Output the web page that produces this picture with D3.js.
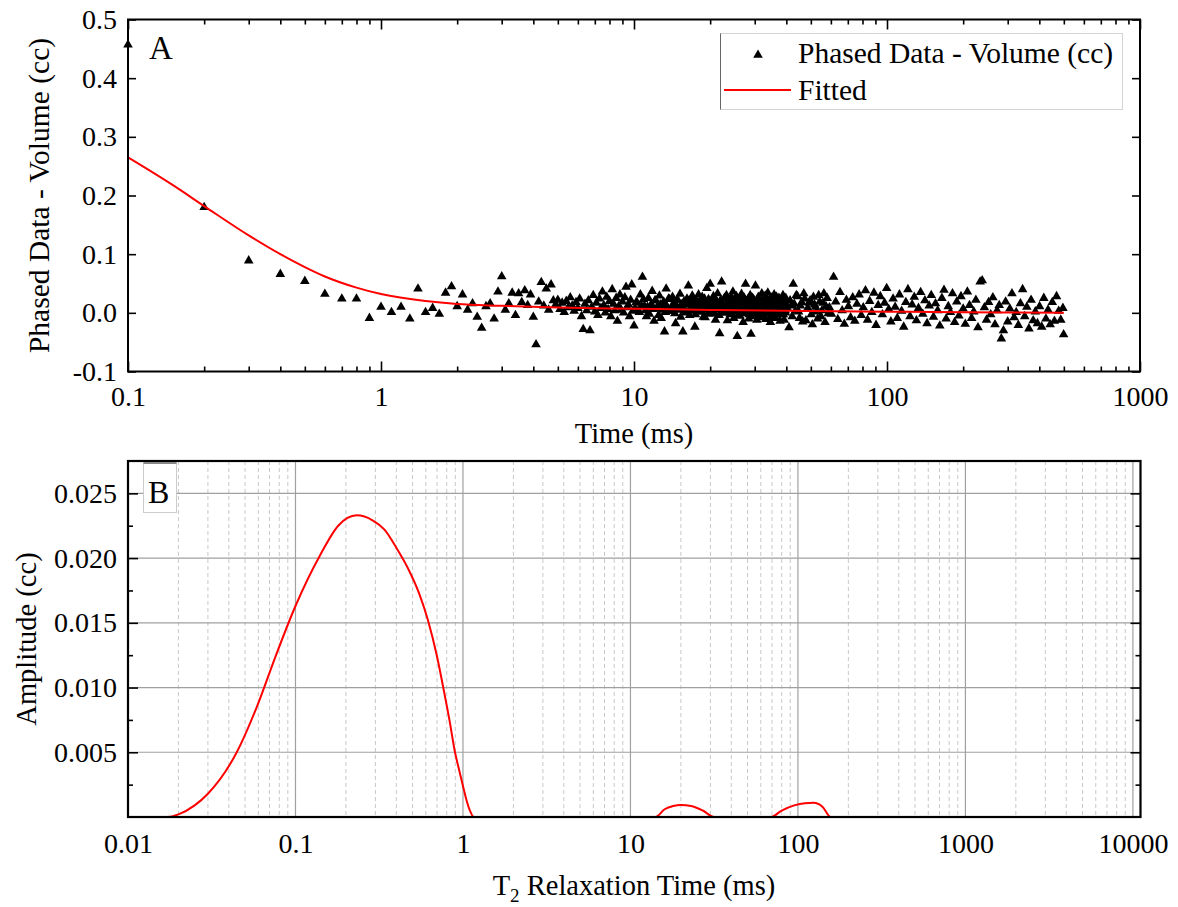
<!DOCTYPE html>
<html>
<head>
<meta charset="utf-8">
<script src="https://cdn.jsdelivr.net/npm/d3@7"></script>
<style>
  body { margin: 0; background: #fff; }
  svg text { font-family: "Liberation Serif", "Times New Roman", serif !important; fill: #000; }
</style>
</head>
<body>
<div id="chart"></div>
<script>
const W = 1178, H = 907

// ---- panel A: phased echo data (ms, cc) ----
const phasedTime = [
  0.1,0.2,0.3,0.4,0.5,0.6,0.7,0.8,0.9,1.0,
  1.1,1.2,1.3,1.4,1.5,1.6,1.7,1.8,1.9,2.0,
  2.1,2.2,2.3,2.4,2.5,2.6,2.7,2.8,2.9,3.0,
  3.1,3.2,3.3,3.4,3.5,3.6,3.7,3.8,3.9,4.0,
  4.1,4.2,4.3,4.4,4.5,4.6,4.7,4.8,4.9,5.0,
  5.1,5.2,5.3,5.4,5.5,5.6,5.7,5.8,5.9,6.0,
  6.1,6.2,6.3,6.4,6.5,6.6,6.7,6.8,6.9,7.0,
  7.1,7.2,7.3,7.4,7.5,7.6,7.7,7.8,7.9,8.0,
  8.1,8.2,8.3,8.4,8.5,8.6,8.7,8.8,8.9,9.0,
  9.1,9.2,9.3,9.4,9.5,9.6,9.7,9.8,9.9,10.0,
  10.2,10.4,10.6,10.8,11.0,11.2,11.4,11.6,11.8,12.0,
  12.2,12.4,12.6,12.8,13.0,13.2,13.4,13.6,13.8,14.0,
  14.2,14.4,14.6,14.8,15.0,15.2,15.4,15.6,15.8,16.0,
  16.2,16.4,16.6,16.8,17.0,17.2,17.4,17.6,17.8,18.0,
  18.2,18.4,18.6,18.8,19.0,19.2,19.4,19.6,19.8,20.0,
  20.2,20.4,20.6,20.8,21.0,21.2,21.4,21.6,21.8,22.0,
  22.2,22.4,22.6,22.8,23.0,23.2,23.4,23.6,23.8,24.0,
  24.2,24.4,24.6,24.8,25.0,25.2,25.4,25.6,25.8,26.0,
  26.2,26.4,26.6,26.8,27.0,27.2,27.4,27.6,27.8,28.0,
  28.2,28.4,28.6,28.8,29.0,29.2,29.4,29.6,29.8,30.0,
  30.2,30.4,30.6,30.8,31.0,31.2,31.4,31.6,31.8,32.0,
  32.2,32.4,32.6,32.8,33.0,33.2,33.4,33.6,33.8,34.0,
  34.2,34.4,34.6,34.8,35.0,35.2,35.4,35.6,35.8,36.0,
  36.2,36.4,36.6,36.8,37.0,37.2,37.4,37.6,37.8,38.0,
  38.2,38.4,38.6,38.8,39.0,39.2,39.4,39.6,39.8,40.0,
  41.0,41.8,42.6,43.4,44.3,45.1,46.0,46.9,47.8,48.8,
  49.7,50.7,51.7,52.7,53.7,54.8,55.8,56.9,58.0,59.2,
  60.3,61.5,62.7,63.9,65.2,66.5,67.8,69.1,70.4,71.8,
  73.2,74.6,76.1,77.6,79.1,80.6,82.2,83.8,85.4,87.1,
  88.8,90.5,92.3,94.1,95.9,97.8,99.7,101.6,103.6,105.7,
  107.7,109.8,112.0,114.2,116.4,118.7,121.0,123.3,125.7,128.2,
  130.7,133.2,135.8,138.5,141.2,144.0,146.8,149.6,152.6,155.5,
  158.6,161.7,164.8,168.0,171.3,174.7,178.1,181.5,185.1,188.7,
  192.4,196.1,200.0,203.9,207.8,211.9,216.0,220.2,224.5,228.9,
  233.4,237.9,242.6,247.3,252.1,257.0,262.1,267.2,272.4,277.7,
  283.1,288.6,294.3,300.0,305.9,311.8,317.9,324.1,330.4,336.9,
  343.5,350.2,357.0,364.0,371.1,378.3,385.7,393.2,400.9,408.7,
  416.7,424.8,433.1,441.5,450.1,458.9,467.9,477.0,486.3,495.8,
  499.0
]
const phasedVolume = [
  .457,.180,.089,.066,.054,.032,.024,.024,-.009,.010,
  .001,.010,-.010,.041,.001,.008,-.002,.034,.045,.011,
  .031,.005,.016,-.007,-.026,.011,.016,-.010,.036,.062,
  .005,.016,.034,-.004,.033,.018,.038,.013,.031,-.007,
  -.054,.019,.052,.012,.041,.005,.048,.021,.014,.022,
  .006,.017,.001,.020,.009,.026,.012,.003,.018,.008,
  .024,-.006,-.028,.015,.004,.021,-.030,.010,.030,.002,
  .017,-.004,.024,.008,.036,.013,.000,.027,.006,.020,
  -.006,.040,.015,.004,.025,-.014,.011,.031,.005,.019,
  .000,.026,.044,.009,.014,-.006,.022,.048,.003,-.022,
  .018,.004,.031,.061,.012,-.006,.025,.009,.037,-.014,
  .021,.008,.029,-.009,.016,-.032,.041,.007,.023,.003,
  .027,.011,-.018,.022,.005,.032,.014,-.032,.019,.001,
  .024,.046,-.004,.017,.029,.006,-.024,.022,.009,.031,
  .002,.015,.027,-.007,.024,.010,.042,.012,-.002,.049,
  .020,.004,.028,.010,-.012,.018,.033,.006,-.035,.022,
  .053,.011,.000,.025,.007,.030,-.013,.016,.021,-.003,
  .027,.008,.036,-.009,.019,.004,.028,-.040,.013,.024,
  -.005,.019,.032,.006,-.016,.026,.012,.049,.001,.017,
  .023,-.010,.008,.030,-.036,.014,.025,.003,.019,-.006,
  .046,.010,-.012,.019,.027,.005,-.002,.022,.015,.033,
  -.008,.011,.024,.004,.029,-.011,.018,.008,.034,.000,
  .020,.013,-.016,.026,.006,.016,-.004,.022,.031,.003,
  .017,-.009,.027,.009,.020,.002,.025,.012,-.014,.015,
  .007,.021,-.003,.030,.014,-.012,.019,.004,.025,.010,
  -.025,.012,.049,.003,.028,-.009,.018,.033,-.013,.007,
  .021,-.020,.014,.002,.030,-.006,.017,-.016,.025,.009,
  -.002,.061,.019,-.011,.035,.004,-.019,.022,.011,-.008,
  .026,-.014,.015,.031,-.004,.009,.038,-.012,.020,.001,
  .034,-.021,.013,.028,-.003,.017,.042,.006,-.015,.024,
  .010,-.009,.031,.003,-.024,.018,.040,-.006,.014,.027,
  -.013,.008,.035,-.002,.021,-.018,.012,.030,-.007,.016,
  .004,-.022,.025,.039,-.010,.011,.001,.033,-.016,.019,
  -.005,.028,.007,-.019,.036,.013,-.009,.002,.022,-.025,
  .053,.055,.009,-.012,.018,-.003,.026,-.020,.004,.013,
  -.044,-.030,.019,-.015,.007,.033,-.008,.001,-.021,.016,
  .040,-.006,.010,-.027,.022,-.013,.002,-.018,.011,-.024,
  .025,-.010,.005,-.020,.018,-.014,.028,.003,-.012,.008,
  -.037
]
// interleaved echoes in the dense 10-60 ms stretch
const denseTime = [
  10.1,10.3,10.5,10.7,10.9,11.1,11.3,11.5,11.7,11.9,
  12.1,12.3,12.5,12.7,12.9,13.1,13.3,13.5,13.7,13.9,
  14.1,14.3,14.5,14.7,14.9,15.1,15.3,15.5,15.7,15.9,
  16.1,16.3,16.5,16.7,16.9,17.1,17.3,17.5,17.7,17.9,
  18.1,18.3,18.5,18.7,18.9,19.1,19.3,19.5,19.7,19.9,
  20.1,20.3,20.5,20.7,20.9,21.1,21.3,21.5,21.7,21.9,
  22.1,22.3,22.5,22.7,22.9,23.1,23.3,23.5,23.7,23.9,
  24.1,24.3,24.5,24.7,24.9,25.1,25.3,25.5,25.7,25.9,
  26.1,26.3,26.5,26.7,26.9,27.1,27.3,27.5,27.7,27.9,
  28.1,28.3,28.5,28.7,28.9,29.1,29.3,29.5,29.7,29.9,
  30.1,30.3,30.5,30.7,30.9,31.1,31.3,31.5,31.7,31.9,
  32.1,32.3,32.5,32.7,32.9,33.1,33.3,33.5,33.7,33.9,
  34.1,34.3,34.5,34.7,34.9,35.1,35.3,35.5,35.7,35.9,
  36.1,36.3,36.5,36.7,36.9,37.1,37.3,37.5,37.7,37.9,
  38.1,38.3,38.5,38.7,38.9,39.1,39.3,39.5,39.7,39.9,
  40.4,41.4,42.2,43.0,43.8,44.7,45.5,46.4,47.3,48.3,
  49.2,50.2,51.2,52.2,53.2,54.2,55.3,56.3,57.4,58.6
]
const denseVolume = [
  .007,.017,.001,.012,.023,.004,.010,-.002,.015,.006,
  .021,.009,-.004,.014,.005,.019,.001,.011,.024,.003,
  .008,.016,-.001,.013,.022,.006,-.007,.011,.018,.004,
  .014,.000,.020,.008,.003,.025,.010,-.003,.016,.007,
  .012,.021,.002,.009,.017,-.008,.013,.005,.023,.001,
  .010,.019,.004,.014,-.001,.022,.007,.015,-.004,.011,
  .018,.003,.012,.024,.006,.000,.016,.009,.021,.005,
  .013,-.002,.017,.008,.023,.002,.011,.019,-.005,.014,
  .006,.020,.001,.015,.010,.024,.004,.012,-.001,.017,
  .008,.021,-.003,.013,.005,.018,.002,.011,.023,.007,
  .014,.000,.019,.009,.004,.022,.012,-.004,.016,.006,
  .011,.020,.003,.015,-.002,.013,.008,.021,.001,.010,
  .017,.005,.012,-.007,.019,.007,.014,.002,.022,.009,
  .004,.016,.010,-.001,.018,.006,.013,.021,.001,.011,
  .015,.003,.008,.019,-.003,.012,.006,.017,.000,.010,
  .008,.021,-.006,.015,.030,.002,.012,-.015,.024,.006,
  .017,-.003,.027,.010,-.010,.019,.004,.033,.011,-.001
]
const fitTime = [0.1,0.15,0.2,0.3,0.4,0.5,0.6,0.8,1,1.5,2,3,5,10,20,50,100,200,500]
const fitVolume = [0.265,0.218,0.182,0.132,0.100,0.078,0.062,0.043,0.032,0.020,0.015,0.012,0.009,0.007,0.005,0.003,0.002,0.001,0.000]

// ---- panel B: T2 distribution (ms, cc) ----
const t2Time = [0.01,0.0173,0.02,0.025,0.03,0.0446,0.06,0.075,0.1,0.14,0.18,0.232,0.29,0.34,0.4,0.47,0.55,0.618,0.7,0.76,0.83,0.896,0.95,1.0,1.05,1.1,1.16,
  2,5,10,14.1,16,18,20,23,27,31.6,50,69,80,95,110,124,140,157,300,1000,10000]
const t2Amplitude = [0,0,0.0002,0.0009,0.0018,0.005,0.0088,0.0122,0.0163,0.0202,0.0225,0.0233,0.0229,0.0222,0.0208,0.0192,0.0172,0.0152,0.0124,0.0101,0.0075,0.005,0.0036,0.0024,0.0013,0.0005,0,
  0,0,0,0,0.0006,0.00085,0.00093,0.00085,0.0005,0,0,0,0.0005,0.0009,0.00107,0.0011,0.0008,0,0,0,0]

const tickTimeA = [0.1, 1, 10, 100, 1000]
const tickVolA = [-0.1, 0, 0.1, 0.2, 0.3, 0.4, 0.5]
const tickTimeB = [0.01, 0.1, 1, 10, 100, 1000, 10000]
const tickAmpB = [0.005, 0.01, 0.015, 0.02, 0.025]
const minorAmpB = [0.0025, 0.0075, 0.0125, 0.0175, 0.0225]

function minors(lo, hi) {
  const out = []
  for (let e = lo; e < hi; e++) for (let k = 2; k < 10; k++) out.push(k * Math.pow(10, e))
  return out
}

const svg = d3.select('#chart').append('svg')
  .attr('width', W).attr('height', H)

function styleAxis(g) {
  g.select('.domain').remove()
  g.selectAll('.tick line').attr('stroke', '#000').attr('stroke-width', 1.6)
  g.selectAll('.tick text').attr('font-size', 28)
}

// ================= panel A =================
const xA = d3.scaleLog().domain([0.1, 1000]).range([128, 1140])
const yA = d3.scaleLinear().domain([-0.1, 0.5]).range([371.5, 19.5])

svg.append('clipPath').attr('id', 'clipA')
  .append('rect').attr('x', 128).attr('y', 19.5).attr('width', 1012).attr('height', 352)

const lineA = d3.line().x((d, i) => xA(fitTime[i])).y(d => yA(d)).curve(d3.curveMonotoneX)

const allTime = phasedTime.concat(denseTime)
const allVolume = phasedVolume.concat(denseVolume)

svg.append('g')
  .selectAll('path')
  .data(allVolume)
  .enter()
  .append('path')
  .attr('d', d3.symbol(d3.symbolTriangle, 40))
  .attr('transform', (d, i) => `translate(${xA(allTime[i])},${yA(d)})`)
  .attr('fill', '#000')

svg.append('path')
  .datum(fitVolume)
  .attr('clip-path', 'url(#clipA)')
  .attr('d', lineA)
  .attr('fill', 'none')
  .attr('stroke', '#ff0000')
  .attr('stroke-width', 2)

svg.append('g').attr('transform', 'translate(0,371.5)')
  .call(d3.axisBottom(xA).tickValues(tickTimeA).tickSize(-10).tickPadding(15).tickFormat(d => String(d)))
  .call(styleAxis)
svg.append('g').attr('transform', 'translate(0,371.5)')
  .call(d3.axisBottom(xA).tickValues(minors(-1, 3)).tickSize(-5).tickFormat(''))
  .call(styleAxis)
svg.append('g').attr('transform', 'translate(0,19.5)')
  .call(d3.axisTop(xA).tickValues(tickTimeA).tickSize(-10).tickFormat(''))
  .call(styleAxis)
svg.append('g').attr('transform', 'translate(0,19.5)')
  .call(d3.axisTop(xA).tickValues(minors(-1, 3)).tickSize(-5).tickFormat(''))
  .call(styleAxis)
svg.append('g').attr('transform', 'translate(128,0)')
  .call(d3.axisLeft(yA).tickValues(tickVolA).tickSize(-8).tickPadding(11).tickFormat(d => d.toFixed(1)))
  .call(styleAxis)
svg.append('g').attr('transform', 'translate(1140,0)')
  .call(d3.axisRight(yA).tickValues(tickVolA).tickSize(-8).tickFormat(''))
  .call(styleAxis)

svg.append('rect')
  .attr('x', 128).attr('y', 19.5).attr('width', 1012).attr('height', 352)
  .attr('fill', 'none').attr('stroke', '#000').attr('stroke-width', 2)

svg.append('text').attr('x', 149).attr('y', 59).attr('font-size', 33).text('A')

// legend
const legend = svg.append('g')
legend.append('rect')
  .attr('x', 720.5).attr('y', 33.5).attr('width', 402).attr('height', 76)
  .attr('fill', '#fff').attr('stroke', '#d4d4d4').attr('stroke-width', 1)
legend.append('line')
  .attr('x1', 720.5).attr('x2', 720.5).attr('y1', 33.5).attr('y2', 109.5)
  .attr('stroke', '#666').attr('stroke-width', 1)
legend.append('path')
  .attr('d', d3.symbol(d3.symbolTriangle, 40))
  .attr('transform', 'translate(758,55)')
  .attr('fill', '#000')
legend.append('text').attr('x', 798).attr('y', 63).attr('font-size', 29.5).text('Phased Data - Volume (cc)')
legend.append('line')
  .attr('x1', 724).attr('x2', 791).attr('y1', 90).attr('y2', 90)
  .attr('stroke', '#ff0000').attr('stroke-width', 2)
legend.append('text').attr('x', 798).attr('y', 100).attr('font-size', 29.5).text('Fitted')

svg.append('text')
  .attr('transform', 'translate(49,195.5) rotate(-90)')
  .attr('text-anchor', 'middle').attr('font-size', 29.5)
  .text('Phased Data - Volume (cc)')
svg.append('text')
  .attr('x', 634).attr('y', 443)
  .attr('text-anchor', 'middle').attr('font-size', 28.5)
  .text('Time (ms)')

// ================= panel B =================
const xB = d3.scaleLog().domain([0.01, 11100]).range([128, 1140.5])
const yB = d3.scaleLinear().domain([0, 0.0275]).range([817, 461])

const grid = svg.append('g')
grid.selectAll('line.minor')
  .data(minors(-2, 4))
  .enter().append('line')
  .attr('x1', d => xB(d)).attr('x2', d => xB(d))
  .attr('y1', 461).attr('y2', 817)
  .attr('stroke', '#c8c8c8').attr('stroke-width', 1).attr('stroke-dasharray', '4,3')
grid.selectAll('line.major')
  .data(tickTimeB.slice(1))
  .enter().append('line')
  .attr('x1', d => xB(d)).attr('x2', d => xB(d))
  .attr('y1', 461).attr('y2', 817)
  .attr('stroke', '#a0a0a0').attr('stroke-width', 1.2)
grid.selectAll('line.hmajor')
  .data(tickAmpB)
  .enter().append('line')
  .attr('x1', 128).attr('x2', 1140.5)
  .attr('y1', d => yB(d)).attr('y2', d => yB(d))
  .attr('stroke', '#a0a0a0').attr('stroke-width', 1.2)

const lineB = d3.line().x((d, i) => xB(t2Time[i])).y(d => yB(d)).curve(d3.curveMonotoneX)
svg.append('path')
  .datum(t2Amplitude)
  .attr('d', lineB)
  .attr('fill', 'none')
  .attr('stroke', '#ff0000')
  .attr('stroke-width', 2)

svg.append('g').attr('transform', 'translate(0,817)')
  .call(d3.axisBottom(xB).tickValues(tickTimeB).tickSize(0).tickPadding(16).tickFormat(d => String(d)))
  .call(styleAxis)
svg.append('g').attr('transform', 'translate(128,0)')
  .call(d3.axisLeft(yB).tickValues(tickAmpB).tickSize(-10).tickPadding(11).tickFormat(d3.format('.3f')))
  .call(styleAxis)
svg.append('g').attr('transform', 'translate(128,0)')
  .call(d3.axisLeft(yB).tickValues(minorAmpB).tickSize(-5).tickFormat(''))
  .call(styleAxis)
svg.append('g').attr('transform', 'translate(1140.5,0)')
  .call(d3.axisRight(yB).tickValues(tickAmpB).tickSize(-10).tickFormat(''))
  .call(styleAxis)
svg.append('g').attr('transform', 'translate(1140.5,0)')
  .call(d3.axisRight(yB).tickValues(minorAmpB).tickSize(-5).tickFormat(''))
  .call(styleAxis)

svg.append('rect')
  .attr('x', 128).attr('y', 461).attr('width', 1012.5).attr('height', 356)
  .attr('fill', 'none').attr('stroke', '#000').attr('stroke-width', 2.2)

svg.append('rect')
  .attr('x', 143.5).attr('y', 462.5).attr('width', 33).attr('height', 50)
  .attr('fill', '#fff').attr('stroke', '#cccccc').attr('stroke-width', 1)
svg.append('line')
  .attr('x1', 143.5).attr('x2', 176.5).attr('y1', 463).attr('y2', 463)
  .attr('stroke', '#888').attr('stroke-width', 2)
svg.append('text').attr('x', 148).attr('y', 503).attr('font-size', 32).text('B')

svg.append('text')
  .attr('transform', 'translate(36,639) rotate(-90)')
  .attr('text-anchor', 'middle').attr('font-size', 28.5)
  .text('Amplitude (cc)')

const t2Title = svg.append('text')
  .attr('x', 634).attr('y', 895)
  .attr('text-anchor', 'middle').attr('font-size', 28.5)
t2Title.append('tspan').text('T')
t2Title.append('tspan').attr('font-size', 19).attr('dy', 7).text('2')
t2Title.append('tspan').attr('dy', -7).text(' Relaxation Time (ms)')
</script>
</body>
</html>
